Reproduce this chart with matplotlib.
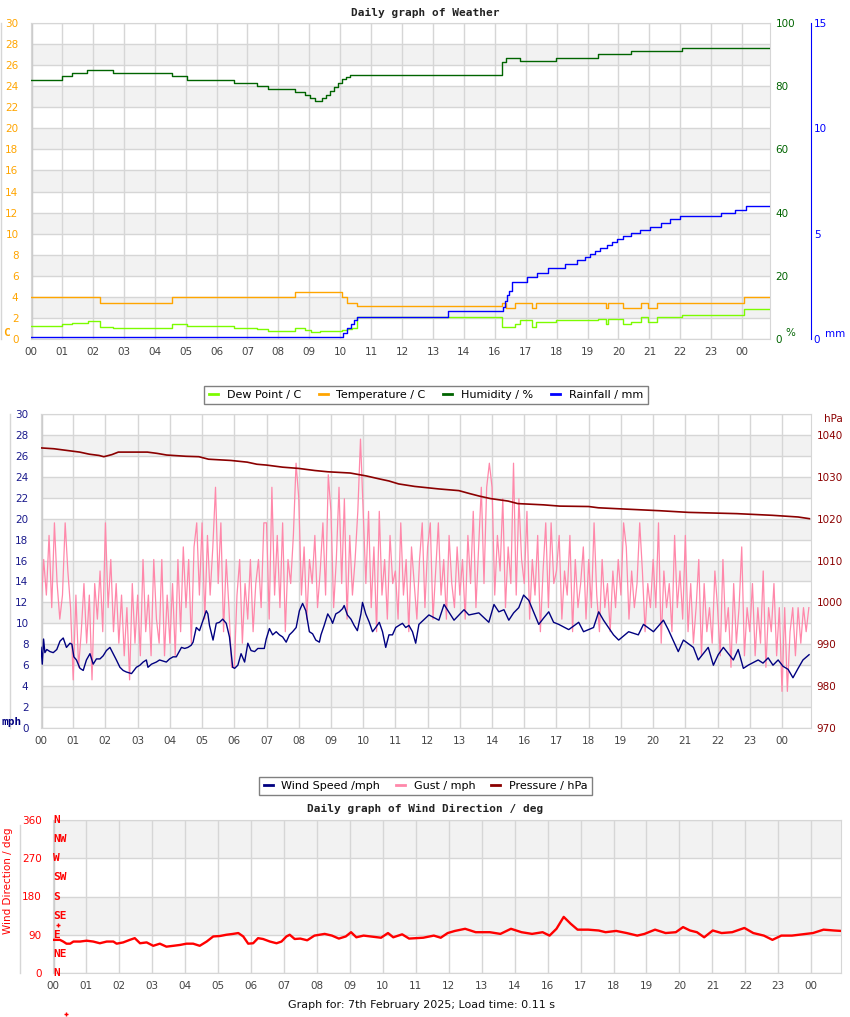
import numpy as np
import matplotlib
matplotlib.use("Agg")
import matplotlib.pyplot as plt
from matplotlib.lines import Line2D
from matplotlib.transforms import blended_transform_factory

# ---- x axis labels (one per grid line, "15" is missing in the original)
hour_labels = ['00', '01', '02', '03', '04', '05', '06', '07', '08', '09', '10', '11',
               '12', '13', '14', '16', '17', '18', '19', '20', '21', '22', '23', '00']
x_end = 23.9

# ---- top chart: weather (step series: time of change in hours, value)
temp_t = [0, 2.23, 4.56, 8.54, 10.06, 10.23, 10.55, 15.24, 15.37, 15.66, 16.21, 16.34,
          18.58, 18.67, 19.16, 19.74, 19.94, 20.26, 23.07, 23.92]
temp_v = [4.0, 3.39, 4.0, 4.49, 4.0, 3.39, 3.13, 3.39, 2.91, 3.39, 2.91, 3.39,
          2.91, 3.39, 2.91, 3.39, 2.91, 3.39, 4.0, 4.0]

dew_t = [0, 1.0, 1.33, 1.84, 2.23, 2.65, 4.56, 5.05, 6.57, 7.31, 7.67, 8.54, 8.87, 9.06,
         9.35, 10.06, 10.23, 10.37, 10.55, 15.24, 15.37, 15.66, 15.82, 16.21, 16.34, 16.99,
         18.35, 18.58, 18.67, 19.16, 19.42, 19.74, 19.94, 20.26, 21.07, 23.07, 23.92]
dew_v = [1.2, 1.42, 1.52, 1.68, 1.14, 1.01, 1.42, 1.2, 1.01, 0.92, 0.73, 1.01, 0.85, 0.63,
         0.73, 0.85, 0.95, 1.0, 2.05, 1.11, 1.11, 1.39, 1.77, 1.11, 1.58, 1.77,
         1.87, 1.39, 1.87, 1.39, 1.58, 2.05, 1.58, 2.05, 2.28, 2.82, 2.82]

hum_t = [0, 1.0, 1.33, 1.81, 2.65, 4.56, 5.05, 6.57, 7.31, 7.67, 8.54, 8.87, 9.03, 9.19,
         9.42, 9.55, 9.68, 9.81, 9.94, 10.07, 10.2, 10.32, 15.24, 15.37, 15.83, 16.99,
         18.35, 19.39, 21.07, 23.92]
hum_v = [81.9, 83.1, 84.2, 85.0, 84.2, 83.1, 81.9, 80.9, 80.0, 79.0, 78.1, 77.2, 76.3, 75.3,
         76.3, 77.2, 78.5, 79.8, 81.0, 82.2, 82.9, 83.5, 87.7, 88.9, 88.0, 88.9,
         90.2, 91.1, 92.1, 92.1]

rain_t = [0, 10.1, 10.23, 10.35, 10.45, 10.55, 13.5, 15.28, 15.33, 15.4, 15.45, 15.55,
          16.05, 16.37, 16.73, 17.28, 17.67, 17.93, 18.09, 18.25, 18.41, 18.64, 18.8,
          18.96, 19.13, 19.39, 19.71, 20.03, 20.36, 20.68, 21.0, 22.3, 22.78, 23.11,
          23.59, 23.92]
rain_v = [0.11, 0.3, 0.51, 0.7, 0.9, 1.06, 1.33, 1.5, 1.8, 2.1, 2.3, 2.72,
          2.94, 3.13, 3.37, 3.56, 3.75, 3.89, 4.03, 4.18, 4.32, 4.46, 4.6,
          4.75, 4.89, 5.03, 5.17, 5.32, 5.51, 5.7, 5.84, 5.98, 6.12, 6.31,
          6.31, 6.31]

# ---- middle chart: wind / gust / pressure
wind_t = [0.00, 0.04, 0.08, 0.12, 0.18, 0.28, 0.38, 0.49, 0.59, 0.69, 0.79, 0.90, 0.96,
          1.02, 1.10, 1.21, 1.31, 1.41, 1.52, 1.62, 1.72, 1.83, 1.93, 2.03, 2.14, 2.24,
          2.34, 2.45, 2.55, 2.65, 2.81, 2.96, 3.07, 3.17, 3.27, 3.32, 3.43, 3.58, 3.68,
          3.89, 3.99, 4.10, 4.20, 4.36, 4.46, 4.56, 4.66, 4.72, 4.82, 4.92, 5.03, 5.13,
          5.18, 5.23, 5.34, 5.44, 5.54, 5.64, 5.75, 5.85, 5.95, 6.01, 6.11, 6.21, 6.32,
          6.42, 6.52, 6.63, 6.73, 6.83, 6.93, 6.99, 7.09, 7.19, 7.30, 7.40, 7.50, 7.61,
          7.71, 7.81, 7.92, 8.02, 8.12, 8.22, 8.33, 8.43, 8.53, 8.64, 8.69, 8.79, 8.90,
          9.00, 9.05, 9.15, 9.26, 9.36, 9.41, 9.51, 9.62, 9.72, 9.82, 9.93, 9.98, 10.08,
          10.19, 10.29, 10.39, 10.50, 10.60, 10.70, 10.80, 10.91, 11.01, 11.11, 11.22,
          11.32, 11.42, 11.53, 11.63, 11.73, 12.04, 12.35, 12.51, 12.82, 13.13, 13.28,
          13.59, 13.90, 14.06, 14.21, 14.37, 14.52, 14.67, 14.83, 14.98, 15.14, 15.29,
          15.45, 15.60, 15.76, 15.91, 16.07, 16.38, 16.69, 16.84, 17.15, 17.31, 17.46,
          17.77, 17.93, 18.24, 18.54, 18.70, 19.01, 19.32, 19.47, 19.78, 19.94, 20.25,
          20.40, 20.71, 20.87, 21.02, 21.18, 21.49, 21.64, 21.80, 21.95, 22.26, 22.41,
          22.57, 22.72, 22.88, 23.03, 23.19, 23.34, 23.50, 23.65, 23.84]
wind_v = [7.7, 6.1, 8.5, 7.2, 7.5, 7.3, 7.2, 7.5, 8.3, 8.6, 7.7, 8.1, 8.0,
          6.8, 6.5, 5.7, 5.5, 6.5, 7.1, 6.1, 6.6, 6.6, 6.9, 7.4, 7.7, 7.1,
          6.5, 5.8, 5.5, 5.35, 5.2, 5.8, 6.0, 6.3, 6.5, 5.8, 6.1, 6.3, 6.5,
          6.3, 6.6, 6.8, 6.8, 7.7, 7.6, 7.7, 7.9, 8.2, 9.6, 9.3, 10.3, 11.2,
          10.9, 9.8, 8.4, 10.0, 10.1, 10.4, 10.0, 8.7, 5.8, 5.7, 6.0, 7.1, 6.3,
          8.1, 7.4, 7.3, 7.6, 7.6, 7.6, 8.5, 9.5, 8.9, 9.2, 8.9, 8.7, 8.2,
          8.9, 9.2, 9.6, 11.2, 11.9, 11.2, 9.2, 9.0, 8.4, 8.2, 8.9, 9.8, 10.9,
          10.4, 10.0, 10.9, 11.1, 11.4, 11.7, 10.8, 10.4, 9.8, 9.3, 10.9, 12.0, 10.9,
          10.1, 9.2, 9.6, 10.1, 9.2, 7.7, 8.9, 8.9, 9.6, 9.8, 10.0,
          9.6, 9.8, 9.2, 8.1, 9.9, 10.8, 10.3, 11.8, 10.3, 11.3, 10.8,
          11.0, 10.1, 11.8, 11.1, 11.3, 10.3, 11.0, 11.5, 12.7, 12.2, 11.1,
          9.9, 10.5, 11.1, 10.1, 9.9, 9.4, 10.1, 9.2, 9.6, 11.1, 10.3,
          8.9, 8.4, 9.2, 8.9, 9.9, 9.2, 10.3, 9.4, 7.3, 8.4, 7.7,
          6.5, 7.7, 6.0, 7.0, 7.7, 6.5, 7.5, 5.7, 6.0, 6.5, 6.2,
          6.7, 6.0, 6.5, 5.9, 5.6, 4.8, 5.7, 6.5, 7.0]

# gust, 12 readings per hour
gust = [
    11.5, 16.1, 12.7, 18.4, 11.5, 19.6, 13.8, 10.4, 12.7, 19.6, 15.0, 11.5,   # 00
    4.6, 12.7, 5.8, 9.2, 13.8, 8.1, 12.7, 4.6, 13.8, 10.4, 15.0, 9.2,        # 01
    19.6, 11.5, 16.1, 9.2, 13.8, 8.1, 12.7, 6.9, 11.5, 4.6, 13.8, 8.1,       # 02
    12.7, 6.9, 16.1, 9.2, 12.7, 6.9, 16.1, 10.4, 8.1, 16.1, 6.9, 12.7,       # 03
    8.1, 13.8, 6.9, 16.1, 9.2, 17.3, 11.5, 16.1, 8.1, 17.3, 19.6, 12.7,      # 04
    19.6, 10.4, 18.4, 12.7, 17.3, 23.0, 13.8, 19.6, 9.2, 16.1, 11.5, 5.8,    # 05
    5.8, 12.7, 16.1, 8.1, 13.8, 10.4, 16.1, 9.2, 13.8, 16.1, 11.5, 19.6,     # 06
    19.6, 10.4, 23.0, 12.7, 18.4, 11.5, 19.6, 9.2, 16.1, 13.8, 18.4, 25.3,   # 07
    22.0, 12.7, 17.3, 10.4, 16.1, 13.8, 18.4, 11.5, 15.0, 19.6, 12.7, 24.2,  # 08
    20.7, 11.5, 16.1, 23.0, 13.8, 21.9, 10.4, 18.4, 12.7, 16.1, 20.7, 27.6,  # 09
    20.7, 13.8, 20.7, 11.5, 17.3, 9.2, 20.7, 12.7, 16.1, 10.4, 18.4, 13.8,   # 10
    15.0, 10.4, 19.6, 12.7, 16.1, 9.2, 17.3, 13.8, 10.4, 16.1, 19.6, 11.5,   # 11
    17.3, 19.6, 10.4, 15.0, 19.6, 12.7, 16.1, 10.4, 18.4, 13.8, 11.5, 17.3,  # 12
    12.7, 16.1, 10.4, 18.4, 13.8, 20.7, 11.5, 17.3, 23.0, 13.8, 23.0, 25.3,  # 13
    23.0, 12.7, 18.4, 15.0, 21.9, 11.5, 17.3, 13.8, 25.3, 12.7, 21.9, 16.1,  # 14
    13.8, 20.7, 10.4, 16.1, 12.7, 18.4, 9.2, 15.0, 19.6, 11.5, 19.6, 13.8,   # 15
    15.0, 18.4, 10.4, 15.0, 12.7, 18.4, 9.2, 16.1, 11.5, 13.8, 17.3, 10.4,   # 16
    16.1, 11.5, 19.6, 12.7, 9.2, 16.1, 11.5, 13.8, 9.2, 15.0, 11.5, 16.1,    # 17
    12.7, 19.6, 17.3, 10.4, 15.0, 11.5, 13.8, 19.6, 15.0, 9.2, 13.8, 11.5,   # 18
    16.1, 11.5, 19.6, 8.1, 15.0, 11.5, 13.8, 9.2, 18.4, 11.5, 15.0, 10.4,    # 19
    18.4, 9.2, 13.8, 8.1, 11.5, 16.1, 6.9, 13.8, 9.2, 11.5, 8.1, 15.0,       # 20
    11.5, 6.9, 16.1, 9.2, 11.5, 5.8, 13.8, 8.1, 11.5, 17.3, 6.9, 11.5,       # 21
    9.2, 13.8, 6.9, 11.5, 8.1, 15.0, 5.8, 11.5, 9.2, 13.8, 6.9, 11.5,        # 22
    3.5, 11.5, 3.5, 9.2, 11.5, 6.9, 11.5, 8.1, 11.5, 9.2, 11.5,              # 23
]

press_t = [0.0, 0.4, 0.8, 1.2, 1.5, 1.8, 1.95, 2.2, 2.4, 3.3, 3.6, 3.9, 4.5, 4.9, 5.2,
           5.9, 6.4, 6.7, 7.0, 7.5, 8.0, 8.5, 8.9, 9.6, 10.1, 10.5, 10.8, 11.1, 11.6,
           12.35, 12.97, 13.3, 13.6, 13.95, 14.5, 14.8, 15.6, 16.1, 17.0, 17.3, 18.1,
           19.2, 20.1, 21.6, 22.7, 23.5, 23.85]
press_v = [1036.9, 1036.7, 1036.3, 1035.9, 1035.4, 1035.1, 1034.8, 1035.3, 1035.9, 1035.9,
           1035.6, 1035.2, 1034.9, 1034.8, 1034.2, 1033.9, 1033.5, 1033.0, 1032.8, 1032.3,
           1032.0, 1031.5, 1031.2, 1030.9, 1030.2, 1029.5, 1029.0, 1028.3, 1027.7, 1027.1,
           1026.7, 1026.0, 1025.4, 1024.8, 1024.2, 1023.6, 1023.3, 1023.0, 1022.9, 1022.6,
           1022.3, 1021.9, 1021.5, 1021.2, 1020.8, 1020.4, 1020.0]

# ---- bottom chart: wind direction
dir_t = [0.01, 0.21, 0.31, 0.41, 0.52, 0.62, 0.82, 1.02, 1.22, 1.42, 1.63, 1.83, 1.93,
         2.13, 2.33, 2.48, 2.64, 2.84, 3.04, 3.24, 3.44, 3.65, 3.85, 4.05, 4.25, 4.45,
         4.66, 4.86, 5.06, 5.26, 5.46, 5.62, 5.77, 5.92, 6.07, 6.22, 6.37, 6.58, 6.78,
         6.93, 7.08, 7.18, 7.33, 7.50, 7.71, 7.93, 8.24, 8.46, 8.67, 8.88, 9.04, 9.20,
         9.42, 9.63, 9.95, 10.16, 10.32, 10.59, 10.80, 11.23, 11.55, 11.76, 11.97, 12.19,
         12.50, 12.82, 13.25, 13.57, 13.89, 14.21, 14.53, 14.85, 15.06, 15.27, 15.49,
         15.70, 15.91, 16.23, 16.55, 16.76, 17.08, 17.40, 17.72, 17.94, 18.26, 18.58,
         18.89, 19.11, 19.32, 19.53, 19.75, 20.01, 20.28, 20.60, 20.97, 21.24, 21.56,
         21.82, 22.09, 22.41, 22.73, 23.05, 23.37, 23.69, 23.90]
dir_v = [78, 78, 74, 69, 69, 74, 74, 76, 74, 70, 74, 74, 69,
         72, 78, 82, 70, 72, 64, 69, 62, 64, 66, 69, 69, 64,
         74, 86, 87, 90, 92, 94, 86, 69, 70, 82, 80, 74, 70,
         74, 86, 90, 80, 81, 77, 88, 92, 88, 81, 86, 96, 84,
         88, 86, 83, 94, 84, 91, 81, 83, 88, 83, 94, 99,
         104, 96, 96, 92, 104, 96, 92, 96, 88, 104, 132,
         116, 102, 102, 100, 96, 99, 94, 88, 92, 102, 94,
         96, 108, 100, 96, 84, 100, 94, 96, 106, 94, 88,
         78, 88, 88, 91, 94, 102, 100, 99]
compass = ['N', 'NE', 'E', 'SE', 'S', 'SW', 'W', 'NW', 'N']
compass_deg = [0, 45, 90, 135, 180, 225, 270, 315, 360]

W, H = 850, 1017
fig = plt.figure(figsize=(W / 100, H / 100), dpi=100)

GRID = '#d6d6d6'
BAND = '#f2f2f2'
TICKC = '#444444'
mono = 'DejaVu Sans Mono'


def box(l, r, t, b):
    return [l / W, 1 - b / H, (r - l) / W, (b - t) / H]


def frame(ax, ymax, ystep, bands):
    ax.set_xlim(0, x_end)
    for lo, hi in bands:
        ax.axhspan(lo, hi, color=BAND, zorder=0, lw=0)
    for y in np.arange(0, ymax + 0.01, ystep):
        ax.axhline(y, color=GRID, lw=1, zorder=0.5)
    for x in range(24):
        ax.axvline(x, color=GRID, lw=1, zorder=0.5)
    ax.axvline(0, color='#cccccc', lw=2.5, zorder=0.6)
    for s in ax.spines.values():
        s.set_color(GRID)
    ax.set_xticks(range(24))
    ax.set_xticklabels(hour_labels)
    ax.tick_params(axis='x', length=0, pad=6, labelsize=7.5, colors=TICKC)


def leftline(x, t, b):
    fig.add_artist(Line2D([x / W, x / W], [1 - t / H, 1 - b / H], color=GRID, lw=1))


# ================= top chart =================
ax1 = fig.add_axes(box(31, 770, 23, 339))
frame(ax1, 30, 2, [(b, b + 2) for b in range(2, 30, 4)])
ax1.set_ylim(0, 30)
ax1.set_yticks(range(0, 31, 2))
ax1.tick_params(axis='y', length=0, pad=9, labelsize=7.5, colors='#FFA500')
ax1.plot(temp_t, temp_v, drawstyle='steps-post', color='#FFA500', lw=1, zorder=3)
ax1.plot(dew_t, dew_v, drawstyle='steps-post', color='#7CFC00', lw=1, zorder=3)

ax1b = ax1.twinx()
ax1b.set_ylim(0, 100)
ax1b.set_yticks(range(0, 101, 20))
ax1b.tick_params(axis='y', length=0, pad=4, labelsize=7.5, colors='#006400')
ax1b.plot(hum_t, hum_v, drawstyle='steps-post', color='#006400', lw=1)
for s in ax1b.spines.values():
    s.set_visible(False)

ax1c = ax1.twinx()
ax1c.set_ylim(0, 15)
ax1c.set_yticks([0, 5, 10, 15])
ax1c.spines['right'].set_position(('outward', 29.5))
ax1c.spines['right'].set_color('#0000FF')
for k in ['left', 'top', 'bottom']:
    ax1c.spines[k].set_visible(False)
ax1c.tick_params(axis='y', length=0, pad=2, labelsize=7.5, colors='#0000FF')
ax1c.plot(rain_t, rain_v, drawstyle='steps-post', color='#0000FF', lw=1)
ax1c.set_xlim(0, x_end)

leftline(1, 23, 339)
fig.text(425 / W, 1 - 13 / H, 'Daily graph of Weather', ha='center', va='center',
         family=mono, weight='bold', size=8, color='#222222')
fig.text(3 / W, 1 - 333 / H, 'C', ha='left', va='center', family=mono, weight='bold',
         size=8, color='#FFA500')
fig.text(785 / W, 1 - 333 / H, '%', ha='left', va='center', size=7.5, color='#006400')
fig.text(825 / W, 1 - 334 / H, 'mm', ha='left', va='center', size=7.5, color='#0000FF')

leg1 = [Line2D([], [], color='#7CFC00', lw=2), Line2D([], [], color='#FFA500', lw=2),
        Line2D([], [], color='#006400', lw=2), Line2D([], [], color='#0000FF', lw=2)]
fig.legend(leg1, ['Dew Point / C', 'Temperature / C', 'Humidity / %', 'Rainfall / mm'],
           loc='center', bbox_to_anchor=(426 / W, 1 - 395 / H), ncol=4, fontsize=8,
           handlelength=0.8, handletextpad=0.8, columnspacing=1.6, frameon=True,
           fancybox=False, edgecolor='#808080', borderpad=0.4, framealpha=1)

# ================= middle chart =================
ax2 = fig.add_axes(box(41, 811, 414, 728))
frame(ax2, 30, 2, [(b, b + 2) for b in range(2, 30, 4)])
ax2.set_ylim(0, 30)
ax2.set_yticks(range(0, 31, 2))
ax2.tick_params(axis='y', length=0, pad=9, labelsize=7.5, colors='#1a1a8c')
gust_t = np.arange(len(gust)) / 12.0
ax2.plot(gust_t, gust, color='#ff88aa', lw=0.9, zorder=2)
ax2.plot(wind_t, wind_v, color='#000080', lw=1, zorder=3)

ax2b = ax2.twinx()
ax2b.set_ylim(970, 1045)
ax2b.set_yticks(range(970, 1041, 10))
ax2b.tick_params(axis='y', length=0, pad=4, labelsize=7.5, colors='#8B0000')
for s in ax2b.spines.values():
    s.set_visible(False)
ax2b.plot(press_t, press_v, color='#8B0000', lw=1.2)
ax2b.set_xlim(0, x_end)

leftline(10, 414, 728)
fig.text(2 / W, 1 - 722 / H, 'mph', ha='left', va='center', family=mono, weight='bold',
         size=8, color='#000080')
fig.text(833 / W, 1 - 419 / H, 'hPa', ha='center', va='center', size=7.5, color='#8B0000')

leg2 = [Line2D([], [], color='#000080', lw=2), Line2D([], [], color='#ff88aa', lw=2),
        Line2D([], [], color='#8B0000', lw=2)]
fig.legend(leg2, ['Wind Speed /mph', 'Gust / mph', 'Pressure / hPa'],
           loc='center', bbox_to_anchor=(425.5 / W, 1 - 786 / H), ncol=3, fontsize=8,
           handlelength=0.8, handletextpad=0.8, columnspacing=1.4, frameon=True,
           fancybox=False, edgecolor='#808080', borderpad=0.4, framealpha=1)

# ================= bottom chart =================
ax3 = fig.add_axes(box(53, 841, 820, 973))
frame(ax3, 360, 90, [(90, 180), (270, 360)])
ax3.set_ylim(0, 360)
ax3.set_yticks([0, 90, 180, 270, 360])
ax3.tick_params(axis='y', length=0, pad=8, labelsize=7.5, colors='#FF0000')
ax3.plot(dir_t, dir_v, color='#FF0000', lw=1.7, zorder=3)
ax3.plot([0.16], [113], '+', color='#FF0000', ms=3, mew=1, zorder=3)
ax3.plot([0.39], [-96], '+', color='#FF0000', ms=3, mew=1, clip_on=False)
tr = blended_transform_factory(ax3.transAxes, ax3.transData)
for name, d in zip(compass, compass_deg):
    ax3.text(0.0, d, name, transform=tr, ha='left', va='center', family=mono,
             weight='bold', size=8, color='#FF0000', zorder=4, clip_on=False)

leftline(20, 825, 973)
fig.text(8 / W, 1 - 881 / H, 'Wind Direction / deg', rotation=90, ha='center',
         va='center', size=7.5, color='#FF0000')
fig.text(425 / W, 1 - 809 / H, 'Daily graph of Wind Direction / deg', ha='center',
         va='center', family=mono, weight='bold', size=8, color='#222222')
fig.text(421 / W, 1 - 1005 / H, 'Graph for: 7th February 2025; Load time: 0.11 s',
         ha='center', va='center', size=8, color='#111111')

fig.savefig('out.png', dpi=100)
